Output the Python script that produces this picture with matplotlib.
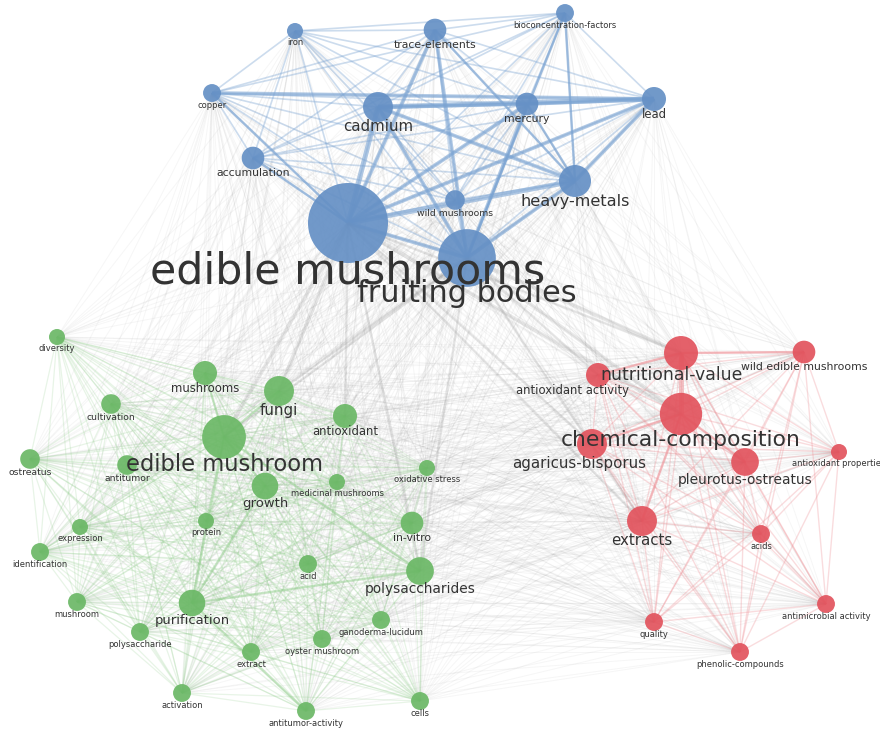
import numpy as np
import matplotlib.pyplot as plt
from matplotlib.patches import Circle
from matplotlib.collections import LineCollection
from itertools import combinations

# --- Keyword co-occurrence map: terms, map coordinates, occurrences ---
blue_terms = ['iron', 'trace-elements', 'bioconcentration-factors', 'copper', 'cadmium',
              'mercury', 'lead', 'accumulation', 'heavy-metals', 'wild mushrooms',
              'edible mushrooms', 'fruiting bodies']
blue_x = [295, 435, 565, 212, 378, 527, 654, 253, 575, 455, 348, 467]
blue_y = [31, 30, 13, 93, 107, 104, 99, 158, 181, 200, 223, 258]
blue_occ = [4, 8, 5, 5, 14, 8, 9, 8, 16, 6, 100, 52]

green_terms = ['diversity', 'mushrooms', 'cultivation', 'fungi', 'antioxidant',
               'edible mushroom', 'ostreatus', 'antitumor', 'growth', 'medicinal mushrooms',
               'oxidative stress', 'expression', 'protein', 'in-vitro', 'identification',
               'acid', 'polysaccharides', 'mushroom', 'purification', 'ganoderma-lucidum',
               'polysaccharide', 'extract', 'oyster mushroom', 'activation',
               'antitumor-activity', 'cells']
green_x = [57, 205, 111, 279, 345, 224, 30, 127, 265, 337, 427, 80, 206, 412, 40,
           308, 420, 77, 192, 381, 140, 251, 322, 182, 306, 420]
green_y = [337, 373, 404, 391, 416, 437, 459, 465, 486, 482, 468, 527, 521, 523, 552,
           564, 571, 602, 603, 620, 632, 652, 639, 693, 711, 701]
green_occ = [4, 9, 6, 14, 9, 30, 6, 6, 11, 4, 4, 4, 4, 8, 5,
             5, 12, 5, 11, 5, 5, 5, 5, 5, 5, 5]

red_terms = ['nutritional-value', 'wild edible mushrooms', 'antioxidant activity',
             'chemical-composition', 'agaricus-bisporus', 'pleurotus-ostreatus',
             'antioxidant properties', 'extracts', 'acids', 'antimicrobial activity',
             'quality', 'phenolic-compounds']
red_x = [681, 804, 598, 681, 592, 745, 839, 642, 761, 826, 654, 740]
red_y = [353, 352, 375, 414, 444, 462, 452, 521, 534, 604, 622, 652]
red_occ = [18, 8, 9, 28, 14, 12, 4, 14, 5, 5, 5, 5]

# links with a higher co-occurrence strength
strong_links = [
    ('edible mushrooms', 'cadmium', 4), ('edible mushrooms', 'heavy-metals', 4),
    ('edible mushrooms', 'mercury', 3), ('edible mushrooms', 'trace-elements', 3),
    ('edible mushrooms', 'lead', 3), ('edible mushrooms', 'fruiting bodies', 3),
    ('edible mushrooms', 'copper', 2), ('edible mushrooms', 'accumulation', 2),
    ('fruiting bodies', 'cadmium', 3), ('fruiting bodies', 'mercury', 3),
    ('fruiting bodies', 'trace-elements', 3), ('fruiting bodies', 'heavy-metals', 3),
    ('fruiting bodies', 'bioconcentration-factors', 2),
    ('cadmium', 'lead', 4), ('cadmium', 'mercury', 3), ('mercury', 'lead', 3),
    ('copper', 'lead', 3), ('cadmium', 'heavy-metals', 3), ('lead', 'heavy-metals', 3),
    ('mercury', 'heavy-metals', 2), ('trace-elements', 'heavy-metals', 2),
    ('bioconcentration-factors', 'heavy-metals', 2),
    ('edible mushrooms', 'edible mushroom', 3), ('edible mushrooms', 'fungi', 3),
    ('edible mushrooms', 'chemical-composition', 3), ('edible mushrooms', 'nutritional-value', 2),
    ('edible mushrooms', 'polysaccharides', 2), ('edible mushrooms', 'agaricus-bisporus', 2),
    ('edible mushrooms', 'extracts', 2), ('edible mushrooms', 'antioxidant', 2),
    ('fruiting bodies', 'chemical-composition', 3), ('fruiting bodies', 'nutritional-value', 3),
    ('fruiting bodies', 'polysaccharides', 2), ('fruiting bodies', 'antioxidant activity', 2),
    ('fruiting bodies', 'extracts', 2), ('fruiting bodies', 'fungi', 2),
    ('fruiting bodies', 'edible mushroom', 2),
    ('edible mushroom', 'fungi', 2), ('edible mushroom', 'growth', 2),
    ('edible mushroom', 'purification', 2), ('edible mushroom', 'polysaccharides', 2),
    ('edible mushroom', 'mushrooms', 2), ('polysaccharides', 'purification', 2),
    ('growth', 'purification', 2), ('purification', 'antitumor-activity', 2),
    ('nutritional-value', 'chemical-composition', 4),
    ('chemical-composition', 'agaricus-bisporus', 2),
    ('chemical-composition', 'pleurotus-ostreatus', 2),
    ('chemical-composition', 'extracts', 2),
    ('nutritional-value', 'wild edible mushrooms', 2),
    ('nutritional-value', 'antioxidant activity', 2),
]

# --- Styling ---
node_colors = {'blue': '#6590c5', 'green': '#6bb866', 'red': '#e2535d'}
edge_colors = {'blue': '#7aa3d2', 'green': '#8ccb87', 'red': '#ee8d93'}
edge_alpha = {'blue': 0.38, 'green': 0.2, 'red': 0.3}
edge_width = {'blue': 1.2, 'green': 0.9, 'red': 1.0}
label_dx = {'nutritional-value': -9, 'antioxidant activity': -26, 'agaricus-bisporus': -13}

clusters = {
    'blue': (blue_terms, blue_x, blue_y, blue_occ),
    'green': (green_terms, green_x, green_y, green_occ),
    'red': (red_terms, red_x, red_y, red_occ),
}

nodes = {}
for cl, (terms, xs, ys, occ) in clusters.items():
    for t, x, y, o in zip(terms, xs, ys, occ):
        nodes[t] = dict(x=x, y=y, r=4 * np.sqrt(o), cluster=cl)

fig = plt.figure(figsize=(8.8, 7.29), dpi=100)
ax = fig.add_axes([0, 0, 1, 1])
ax.set_xlim(0, 880)
ax.set_ylim(729, 0)
ax.set_aspect('equal')
ax.axis('off')

# --- Links between clusters (grey) ---
names = list(nodes)
cross = [(a, b) for a, b in combinations(names, 2) if nodes[a]['cluster'] != nodes[b]['cluster']]
segs = [[(nodes[a]['x'], nodes[a]['y']), (nodes[b]['x'], nodes[b]['y'])] for a, b in cross]
ax.add_collection(LineCollection(segs, colors='#8a8a8a', linewidths=0.7, alpha=0.075, zorder=1))

# --- Links inside each cluster ---
for cl, (terms, xs, ys, occ) in clusters.items():
    segs = [[(nodes[a]['x'], nodes[a]['y']), (nodes[b]['x'], nodes[b]['y'])]
            for a, b in combinations(terms, 2)]
    ax.add_collection(LineCollection(segs, colors=edge_colors[cl], linewidths=edge_width[cl],
                                     alpha=edge_alpha[cl], zorder=2))

# --- Stronger links ---
for a, b, w in strong_links:
    na, nb = nodes[a], nodes[b]
    if na['cluster'] == nb['cluster']:
        col, al = edge_colors[na['cluster']], edge_alpha[na['cluster']] + 0.2
    else:
        col, al = '#9a9a9a', 0.22
    ax.plot([na['x'], nb['x']], [na['y'], nb['y']], color=col, lw=0.9 * w, alpha=al,
            solid_capstyle='butt', zorder=3)

# --- Nodes and labels ---
for t, n in nodes.items():
    ax.add_patch(Circle((n['x'], n['y']), n['r'], facecolor=node_colors[n['cluster']],
                        edgecolor='none', alpha=0.92, zorder=4))
for t, n in nodes.items():
    fs = max(6, 0.8 * n['r'] - 1.2)
    ax.text(n['x'] + label_dx.get(t, 0), n['y'] + 1.15 * n['r'] + 2, t, fontsize=fs,
            ha='center', va='center', color='#333333', zorder=5)

fig.savefig('out.png', dpi=100)
plt.close()
